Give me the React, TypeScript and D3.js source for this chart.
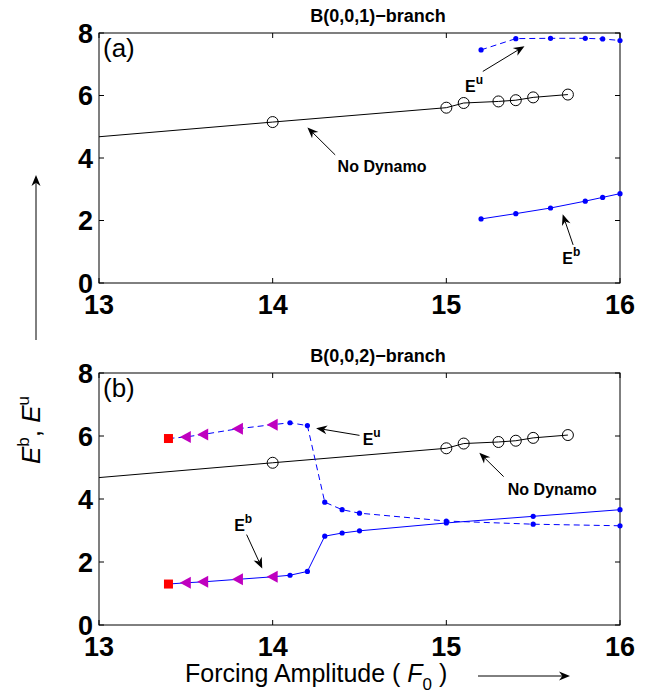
import React from "react";
import * as d3 from "d3";

// Forcing amplitudes and energies of the no-dynamo (hydrodynamic) state
const F_NODYN = [13, 14, 15, 15.1, 15.3, 15.4, 15.5, 15.7];
const E_NODYN = [4.68, 5.15, 5.61, 5.76, 5.81, 5.85, 5.94, 6.03];

// B(0,0,1) branch
const F_A = [15.2, 15.4, 15.6, 15.8, 15.9, 16];
const EU_A = [7.46, 7.82, 7.83, 7.83, 7.81, 7.76];
const EB_A = [2.05, 2.22, 2.4, 2.62, 2.74, 2.86];

// B(0,0,2) branch: onset point, backward continuation, forward continuation
const F_B = [13.4, 13.5, 13.6, 13.8, 14.0, 14.1, 14.2, 14.3, 14.4, 14.5, 15.0, 15.5, 16.0];
const EU_B = [5.92, 5.97, 6.05, 6.23, 6.36, 6.42, 6.33, 3.9, 3.66, 3.55, 3.3, 3.2, 3.15];
const EB_B = [1.3, 1.34, 1.37, 1.45, 1.53, 1.58, 1.7, 2.82, 2.92, 2.99, 3.24, 3.45, 3.66];

const X_TICKS = [13, 14, 15, 16];
const Y_TICKS = [0, 2, 4, 6, 8];

const FONT = "'Liberation Sans', Arial, Helvetica, sans-serif";
const BLUE = "#0000ff";
const MAGENTA = "#bf00bf";

const X0 = 99;
const X1 = 620;

type Pt = [number, number];

function Arrow({ from, to }: { from: Pt; to: Pt }) {
  const [x1, y1] = from;
  const [x2, y2] = to;
  const ang = Math.atan2(y2 - y1, x2 - x1);
  const L = 11;
  const W = 4.5;
  const bx = x2 - L * Math.cos(ang);
  const by = y2 - L * Math.sin(ang);
  const nx = -Math.sin(ang);
  const ny = Math.cos(ang);
  const notchX = x2 - L * 0.7 * Math.cos(ang);
  const notchY = y2 - L * 0.7 * Math.sin(ang);
  const head = `M${x2},${y2} L${bx + nx * W},${by + ny * W} L${notchX},${notchY} L${bx - nx * W},${by - ny * W} Z`;
  return (
    <g>
      <line x1={x1} y1={y1} x2={notchX} y2={notchY} stroke="#000" strokeWidth={1} />
      <path d={head} fill="#000" />
    </g>
  );
}

function Label({ x, y, text, sup }: { x: number; y: number; text: string; sup?: string }) {
  return (
    <text x={x} y={y} fontFamily={FONT} fontWeight="bold" fontSize={16} textAnchor="middle" fill="#000">
      {text}
      {sup && (
        <tspan fontSize={12} dy={-8}>
          {sup}
        </tspan>
      )}
    </text>
  );
}

function Frame({
  x,
  y,
  tag,
  title,
}: {
  x: d3.ScaleLinear<number, number>;
  y: d3.ScaleLinear<number, number>;
  tag: string;
  title: string;
}) {
  const [yb, yt] = y.range();
  const tl = 5;
  return (
    <g>
      <text x={378} y={yt - 11} fontFamily={FONT} fontWeight="bold" fontSize={18} textAnchor="middle">
        {title}
      </text>
      <rect x={X0} y={yt} width={X1 - X0} height={yb - yt} fill="none" stroke="#000" strokeWidth={1} />
      {X_TICKS.map((t) => (
        <g key={"x" + t}>
          <line x1={x(t)} x2={x(t)} y1={yb} y2={yb - tl} stroke="#000" />
          <line x1={x(t)} x2={x(t)} y1={yt} y2={yt + tl} stroke="#000" />
          <text x={x(t)} y={yb + 31} fontFamily={FONT} fontWeight="bold" fontSize={27} textAnchor="middle">
            {t}
          </text>
        </g>
      ))}
      {Y_TICKS.map((t) => (
        <g key={"y" + t}>
          <line x1={X0} x2={X0 + tl} y1={y(t)} y2={y(t)} stroke="#000" />
          <line x1={X1} x2={X1 - tl} y1={y(t)} y2={y(t)} stroke="#000" />
          <text x={93} y={y(t) + 9.5} fontFamily={FONT} fontWeight="bold" fontSize={27} textAnchor="end">
            {t}
          </text>
        </g>
      ))}
      <text x={103} y={yt + 24} fontFamily={FONT} fontSize={26}>
        {tag}
      </text>
    </g>
  );
}

function NoDynamo({ x, y }: { x: d3.ScaleLinear<number, number>; y: d3.ScaleLinear<number, number> }) {
  const pts: Pt[] = F_NODYN.map((f, i) => [x(f), y(E_NODYN[i])]);
  const line = d3.line()(pts) || "";
  return (
    <g>
      <path d={line} fill="none" stroke="#000" strokeWidth={1} />
      {pts.slice(1).map(([cx, cy], i) => (
        <circle key={i} cx={cx} cy={cy} r={5.5} fill="none" stroke="#000" strokeWidth={1} />
      ))}
    </g>
  );
}

function Dots({ pts }: { pts: Pt[] }) {
  return (
    <g>
      {pts.map(([cx, cy], i) => (
        <circle key={i} cx={cx} cy={cy} r={2.6} fill={BLUE} />
      ))}
    </g>
  );
}

function BranchB({
  x,
  y,
  vals,
  dashed,
}: {
  x: d3.ScaleLinear<number, number>;
  y: d3.ScaleLinear<number, number>;
  vals: number[];
  dashed: boolean;
}) {
  const pts: Pt[] = F_B.map((f, i) => [x(f), y(vals[i])]);
  const gen = d3.line();
  const [sx, sy] = pts[0];
  return (
    <g>
      <path d={gen(pts) || ""} fill="none" stroke={BLUE} strokeWidth={1} strokeDasharray={dashed ? "6,4" : undefined} />
      <Dots pts={pts.slice(5)} />
      {pts.slice(1, 5).map(([cx, cy], i) => (
        <path key={i} d={`M${cx - 6},${cy} L${cx + 5},${cy - 6} L${cx + 5},${cy + 6} Z`} fill={MAGENTA} />
      ))}
      <rect x={sx - 4.5} y={sy - 4.5} width={9} height={9} fill="#ff0000" />
    </g>
  );
}

export default function App() {
  const x = d3.scaleLinear().domain([13, 16]).range([X0, X1]);
  const yA = d3.scaleLinear().domain([0, 8]).range([283, 33]);
  const yB = d3.scaleLinear().domain([0, 8]).range([625, 373]);

  const euA: Pt[] = F_A.map((f, i) => [x(f), yA(EU_A[i])]);
  const ebA: Pt[] = F_A.map((f, i) => [x(f), yA(EB_A[i])]);
  const ln = d3.line();

  return (
    <svg width={651} height={696} style={{ position: "absolute", left: 0, top: 0, background: "#fff" }}>
      <rect width={651} height={696} fill="#fff" />

      {/* panel (a) */}
      <Frame x={x} y={yA} tag="(a)" title="B(0,0,1)−branch" />
      <NoDynamo x={x} y={yA} />
      <path d={ln(euA) || ""} fill="none" stroke={BLUE} strokeWidth={1} strokeDasharray="6,4" />
      <Dots pts={euA} />
      <path d={ln(ebA) || ""} fill="none" stroke={BLUE} strokeWidth={1} />
      <Dots pts={ebA} />
      <Label x={x(15.16)} y={yA(6.12)} text="E" sup="u" />
      <Arrow from={[x(15.21), yA(6.77)]} to={[x(15.45), yA(7.58)]} />
      <Label x={x(14.63)} y={yA(3.55)} text="No Dynamo" />
      <Arrow from={[x(14.36), yA(4.1)]} to={[x(14.2), yA(4.98)]} />
      <Label x={x(15.72)} y={yA(0.62)} text="E" sup="b" />
      <Arrow from={[x(15.73), yA(1.22)]} to={[x(15.67), yA(2.2)]} />

      {/* panel (b) */}
      <Frame x={x} y={yB} tag="(b)" title="B(0,0,2)−branch" />
      <NoDynamo x={x} y={yB} />
      <BranchB x={x} y={yB} vals={EU_B} dashed={true} />
      <BranchB x={x} y={yB} vals={EB_B} dashed={false} />
      <Label x={x(14.57)} y={yB(5.72)} text="E" sup="u" />
      <Arrow from={[x(14.5), yB(6.02)]} to={[x(14.25), yB(6.25)]} />
      <Label x={x(15.61)} y={yB(4.14)} text="No Dynamo" />
      <Arrow from={[x(15.33), yB(4.71)]} to={[x(15.19), yB(5.47)]} />
      <Label x={x(13.83)} y={yB(2.98)} text="E" sup="b" />
      <Arrow from={[x(13.85), yB(2.87)]} to={[x(13.94), yB(1.79)]} />

      {/* shared axis labels */}
      <text x={185} y={682} fontFamily={FONT} fontSize={25}>
        {"Forcing Amplitude ( "}
        <tspan fontStyle="italic">F</tspan>
        <tspan fontSize={17} dy={8}>
          0
        </tspan>
        <tspan dy={-8}>{" )"}</tspan>
      </text>
      <Arrow from={[478, 676]} to={[570, 676]} />

      <text transform="translate(40,430) rotate(-90)" fontFamily={FONT} fontSize={26} textAnchor="middle">
        <tspan fontStyle="italic">E</tspan>
        <tspan fontSize={17} dy={-11}>
          b
        </tspan>
        <tspan dy={11}>{", "}</tspan>
        <tspan fontStyle="italic">E</tspan>
        <tspan fontSize={17} dy={-11}>
          u
        </tspan>
      </text>
      <Arrow from={[36, 340]} to={[36, 175]} />
    </svg>
  );
}
